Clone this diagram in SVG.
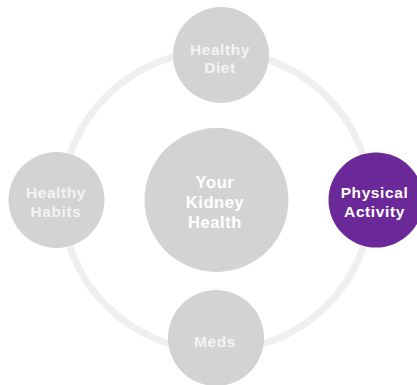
<svg xmlns="http://www.w3.org/2000/svg" width="417" height="385" viewBox="0 0 417 385">
<style>
.node{fill:#d3d3d3}
.active{fill:#6b2899}
.lbl{font-family:"Liberation Sans",Arial,sans-serif;font-weight:700;font-size:15.5px;fill:#f4f4f4;text-anchor:middle;letter-spacing:0.6px}
.lbl.on{fill:#ffffff}
.center{font-family:"Liberation Sans",Arial,sans-serif;font-weight:700;font-size:16.5px;fill:#ffffff;text-anchor:middle;letter-spacing:0.6px}
</style>
<rect width="417" height="385" fill="#ffffff"/>
<g id="connectors">
<ellipse cx="216.5" cy="201" rx="154" ry="150" fill="none" stroke="#efefef" stroke-width="7"/>
</g>
<g id="node-center">
<circle class="node" cx="216.5" cy="200" r="72"/>
<text class="center" x="215" y="188">Your</text>
<text class="center" x="215" y="208">Kidney</text>
<text class="center" x="215" y="227.5">Health</text>
</g>
<g id="node-diet">
<circle class="node" cx="221" cy="55" r="48"/>
<text class="lbl" x="220" y="55">Healthy</text>
<text class="lbl" x="220" y="73">Diet</text>
</g>
<g id="node-habits">
<circle class="node" cx="56.5" cy="200" r="48"/>
<text class="lbl" x="56" y="198">Healthy</text>
<text class="lbl" x="56" y="217">Habits</text>
</g>
<g id="node-activity">
<circle class="active" cx="376" cy="200" r="47.5"/>
<text class="lbl on" x="374.5" y="198">Physical</text>
<text class="lbl on" x="374.5" y="217">Activity</text>
</g>
<g id="node-meds">
<circle class="node" cx="216" cy="338" r="48"/>
<text class="lbl" x="215" y="347">Meds</text>
</g>
</svg>
